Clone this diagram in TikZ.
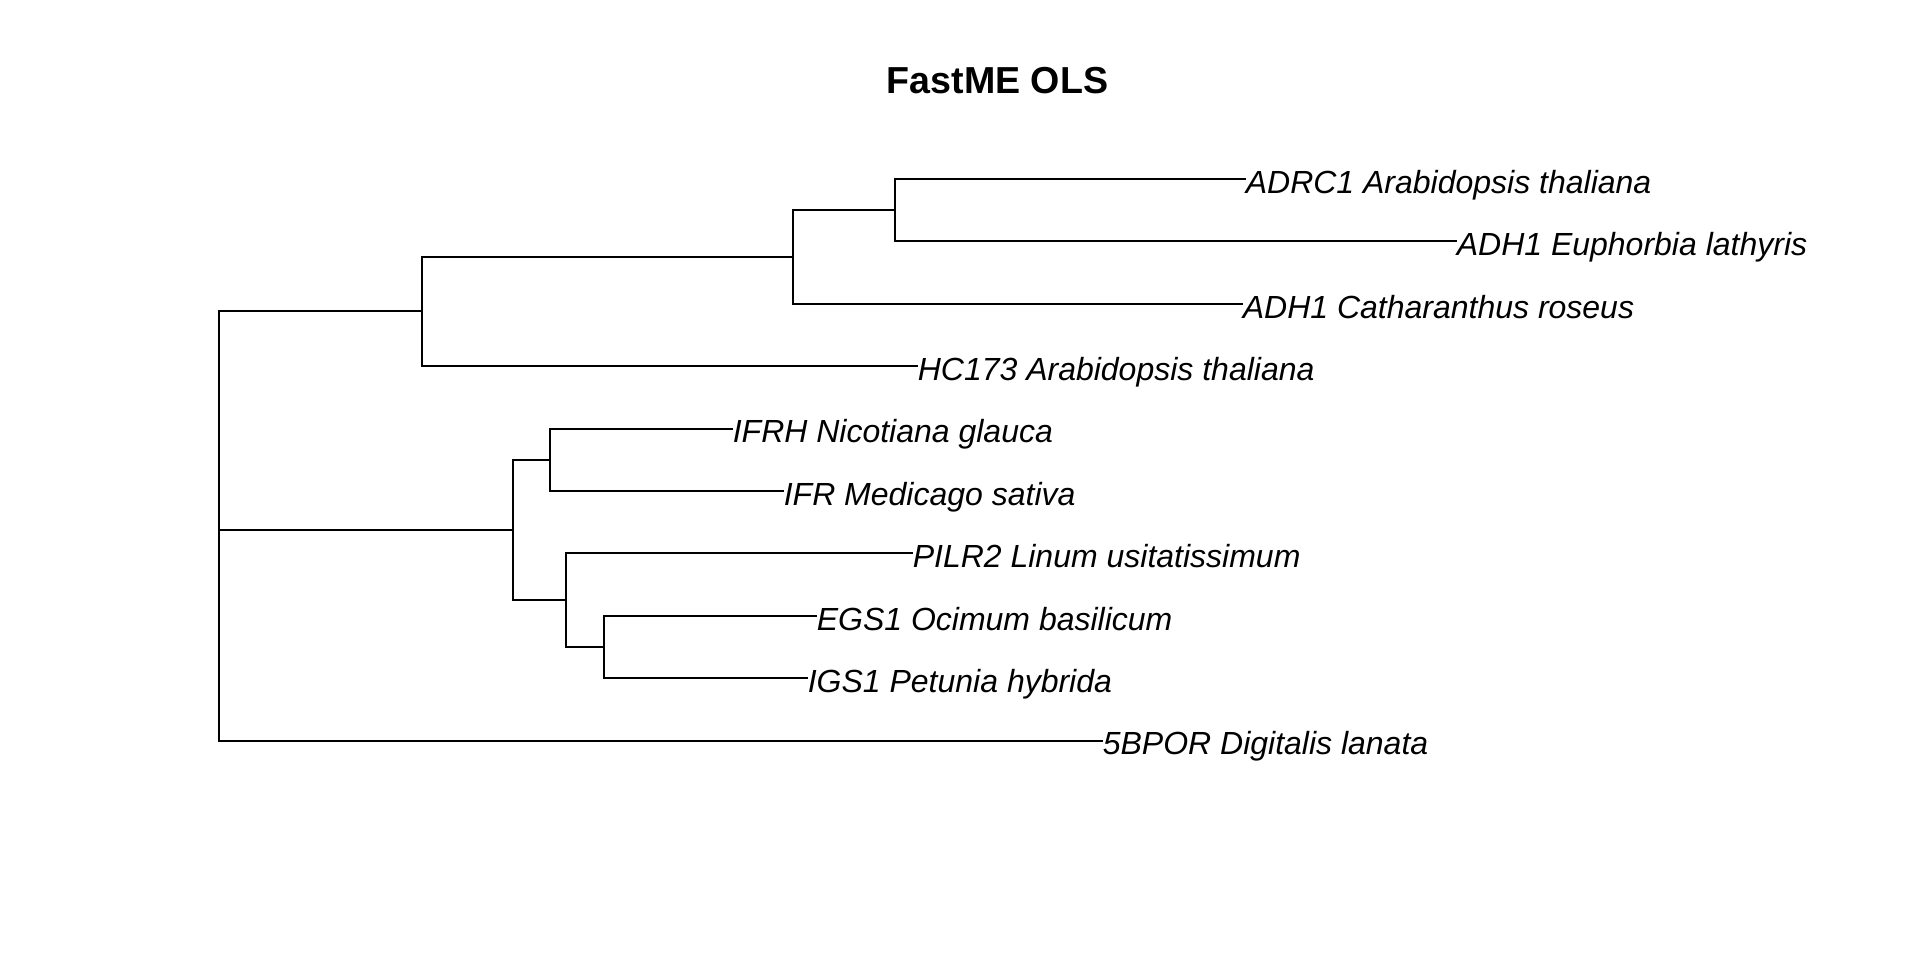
\documentclass[tikz,border=0pt]{standalone}
\usepackage{fontspec}
\setmainfont{Liberation Sans}
\usepackage{tikz}
\usetikzlibrary{positioning}

\begin{document}
\begin{tikzpicture}[
  x=0.25pt, y=-0.25pt,
  leaf/.style={anchor=west,inner sep=0pt,text height=0.716em,text depth=0pt,font=\fontsize{8}{9.6}\selectfont\itshape},
  ttl/.style={inner sep=0pt,text height=0.716em,text depth=0pt,font=\fontsize{9.4}{11}\selectfont\bfseries},
  edge/.style={line width=0.5pt,line cap=rect}]
  \useasboundingbox (0,0) rectangle (1920,960);
  \node[ttl] (title) at (997.5,79.5) {FastME OLS};
  % tips
  \node[leaf] (adrc) at (1245,179) {ADRC1 Arabidopsis thaliana};
  \node[leaf] (adhEu) at (1456,241.4) {ADH1 Euphorbia lathyris};
  \node[leaf] (adhCa) at (1242,303.8) {ADH1 Catharanthus roseus};
  \node[leaf] (hc) at (917,366.2) {HC173 Arabidopsis thaliana};
  \node[leaf] (ifrh) at (732,428.6) {IFRH Nicotiana glauca};
  \node[leaf] (ifr) at (783,491) {IFR Medicago sativa};
  \node[leaf] (pilr) at (912,553.4) {PILR2 Linum usitatissimum};
  \node[leaf] (egs) at (816,615.8) {EGS1 Ocimum basilicum};
  \node[leaf] (igs) at (807,678.2) {IGS1 Petunia hybrida};
  \node[leaf] (bpor) at (1102,740.6) {5BPOR Digitalis lanata};
  % inner nodes
  \coordinate (nC) at (895,210.2);
  \coordinate (nB) at (793,256.8);
  \coordinate (nA) at (422,311.5);
  \coordinate (nD) at (550,459.8);
  \coordinate (nG) at (604,647);
  \coordinate (nF) at (566,600.2);
  \coordinate (nE) at (513,530);
  \coordinate (root) at (219,311.5);
  % branches
  \draw[edge] (nC) |- (adrc.west); \draw[edge] (nC) |- (adhEu.west);
  \draw[edge] (nB) |- (nC); \draw[edge] (nB) |- (adhCa.west);
  \draw[edge] (nA) |- (nB); \draw[edge] (nA) |- (hc.west);
  \draw[edge] (nD) |- (ifrh.west); \draw[edge] (nD) |- (ifr.west);
  \draw[edge] (nG) |- (egs.west); \draw[edge] (nG) |- (igs.west);
  \draw[edge] (nF) |- (pilr.west); \draw[edge] (nF) |- (nG);
  \draw[edge] (nE) |- (nD); \draw[edge] (nE) |- (nF);
  \draw[edge] (root) -- (nA); \draw[edge] (root) |- (nE);
  \draw[edge] (root) |- (bpor.west);
\end{tikzpicture}
\end{document}
